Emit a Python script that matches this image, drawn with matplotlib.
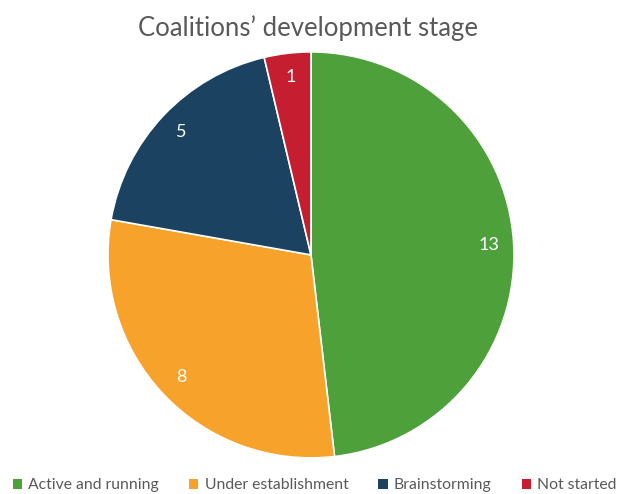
import matplotlib
matplotlib.use("Agg")
import matplotlib.pyplot as plt
from matplotlib.patches import Patch

plt.rcParams['font.family'] = ['Lato', 'DejaVu Sans']

categories = ["Active and running", "Under establishment", "Brainstorming", "Not started"]
counts = [13, 8, 5, 1]
colors = ["#4EA03B", "#F6A22B", "#1B4261", "#C41E30"]
title = "Coalitions\u2019 development stage"

fig = plt.figure(figsize=(6.17, 4.94), dpi=100)
ax = fig.add_axes([0.504 - 0.329, 0.484 - 0.411, 0.658, 0.822])

wedges, texts = ax.pie(
    counts,
    colors=colors,
    startangle=90,
    counterclock=False,
    wedgeprops=dict(edgecolor="white", linewidth=1.2),
    labels=[str(c) for c in counts],
    labeldistance=0.88,
    textprops=dict(color="white", fontsize=13),
)
for t in texts:
    t.set_horizontalalignment("center")
    t.set_verticalalignment("center")
ax.set_aspect("equal")
ax.set_xlim(-1, 1)
ax.set_ylim(-1, 1)

fig.text(0.5, 0.943, title, ha="center", va="center", fontsize=18.5, color="#595959")

handles = [Patch(facecolor=c, edgecolor="none") for c in colors]
fig.legend(handles, categories, loc="center", bbox_to_anchor=(0.51, 0.018), ncol=4,
           frameon=False, fontsize=11.3, labelcolor="#595959",
           handlelength=0.6, handleheight=0.6, handletextpad=0.4, columnspacing=1.9)

fig.savefig("out.png", dpi=100, facecolor="white")
